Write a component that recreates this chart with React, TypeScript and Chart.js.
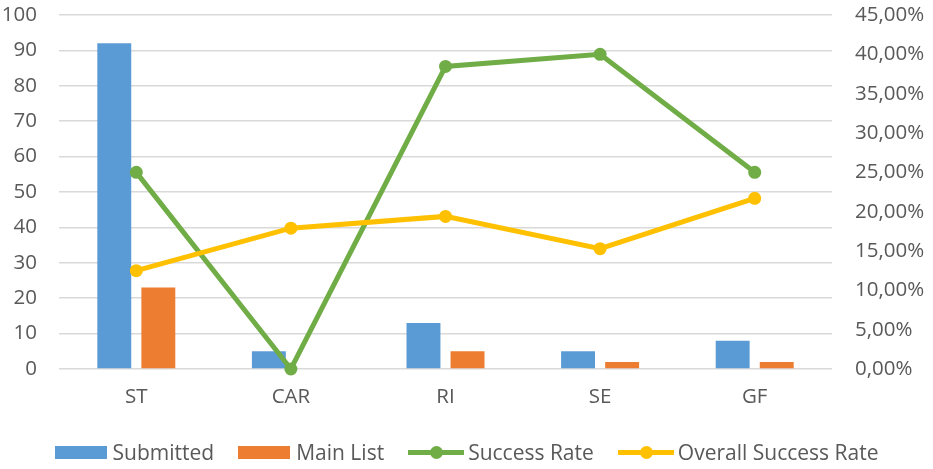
import React, { useEffect, useRef } from "react";
import { Chart, registerables } from "chart.js";

Chart.register(...registerables);

const categories = ["ST", "CAR", "RI", "SE", "GF"];
const submitted = [92, 5, 13, 5, 8];
const mainList = [23, 0, 5, 2, 2];
const successRate = [25, 0, 38.46, 40, 25];
const overallSuccessRate = [12.5, 17.9, 19.4, 15.3, 21.7];
const leftTicks = { min: 0, max: 100, step: 10 };
const rightTicks = { min: 0, max: 45, step: 5 };

const BLUE = "#5B9BD5";
const ORANGE = "#ED7D31";
const GREEN = "#70AD47";
const YELLOW = "#FFC000";
const TEXT = "#595959";
const FONT = "'Open Sans', sans-serif";
const TICK_SIZE = 20.5;

export default function App() {
  const ref = useRef<HTMLCanvasElement | null>(null);

  useEffect(() => {
    if (!ref.current) return;
    const chart = new Chart(ref.current, {
      type: "bar",
      data: {
        labels: categories,
        datasets: [
          {
            type: "bar",
            label: "Submitted",
            data: submitted,
            backgroundColor: BLUE,
            yAxisID: "y",
            order: 2,
            categoryPercentage: 0.57,
            barPercentage: 0.77,
          },
          {
            type: "bar",
            label: "Main List",
            data: mainList,
            backgroundColor: ORANGE,
            yAxisID: "y",
            order: 2,
            categoryPercentage: 0.57,
            barPercentage: 0.77,
          },
          {
            type: "line",
            label: "Success Rate",
            data: successRate,
            borderColor: GREEN,
            backgroundColor: GREEN,
            borderWidth: 5,
            pointRadius: 6.5,
            pointBorderWidth: 0,
            pointBackgroundColor: GREEN,
            yAxisID: "y1",
            order: 1,
            tension: 0,
            clip: false,
          },
          {
            type: "line",
            label: "Overall Success Rate",
            data: overallSuccessRate,
            borderColor: YELLOW,
            backgroundColor: YELLOW,
            borderWidth: 5,
            pointRadius: 6.5,
            pointBorderWidth: 0,
            pointBackgroundColor: YELLOW,
            yAxisID: "y1",
            order: 0,
            tension: 0,
            clip: false,
          },
        ],
      },
      options: {
        animation: false,
        responsive: true,
        maintainAspectRatio: false,
        layout: { padding: { top: 15, left: 0, right: 0, bottom: 0 } },
        plugins: {
          legend: { display: false },
          tooltip: { enabled: false },
        },
        scales: {
          x: {
            grid: { display: false },
            border: { display: false },
            ticks: { color: TEXT, font: { family: FONT, size: TICK_SIZE }, padding: 8 },
            afterFit: (s: any) => {
              s.height = 100;
              s.paddingLeft = 0;
              s.paddingRight = 0;
            },
          },
          y: {
            position: "left",
            min: leftTicks.min,
            max: leftTicks.max,
            ticks: {
              stepSize: leftTicks.step,
              color: TEXT,
              font: { family: FONT, size: TICK_SIZE },
              padding: 22,
            },
            grid: { color: "#d9d9d9", lineWidth: 1.5, drawTicks: false },
            border: { display: false },
            afterFit: (s: any) => {
              s.width = 59;
              s.paddingTop = 0;
              s.paddingBottom = 0;
            },
          },
          y1: {
            position: "right",
            min: rightTicks.min,
            max: rightTicks.max,
            ticks: {
              stepSize: rightTicks.step,
              color: TEXT,
              font: { family: FONT, size: TICK_SIZE },
              padding: 23,
              callback: (v: any) => Number(v).toFixed(2).replace(".", ",") + "%",
            },
            grid: { display: false, drawTicks: false },
            border: { display: false },
            afterFit: (s: any) => {
              s.width = 101;
              s.paddingTop = 0;
              s.paddingBottom = 0;
            },
          },
        },
      },
    });
    return () => chart.destroy();
  }, []);

  const legendItems = [
    { label: "Submitted", color: BLUE, kind: "box" },
    { label: "Main List", color: ORANGE, kind: "box" },
    { label: "Success Rate", color: GREEN, kind: "line" },
    { label: "Overall Success Rate", color: YELLOW, kind: "line" },
  ];

  return (
    <div style={{ position: "fixed", left: 0, top: 0, width: 933, height: 469, background: "#fff" }}>
      <canvas ref={ref} style={{ width: "100%", height: "100%" }} />
      <div
        style={{
          position: "absolute",
          left: 0,
          width: 933,
          top: 437,
          height: 30,
          display: "flex",
          justifyContent: "center",
          alignItems: "center",
          fontFamily: FONT,
          fontSize: 21,
          color: TEXT,
        }}
      >
        {legendItems.map((it, i) => (
          <div key={i} style={{ display: "flex", alignItems: "center", marginRight: i < 3 ? 24 : 0 }}>
            {it.kind === "box" ? (
              <div style={{ width: 52, height: 13, background: it.color, marginRight: 6 }} />
            ) : (
              <div style={{ position: "relative", width: 56, height: 13, marginRight: 4 }}>
                <div style={{ position: "absolute", left: 0, right: 0, top: 4, height: 5, background: it.color }} />
                <div
                  style={{
                    position: "absolute",
                    left: 22,
                    top: 0,
                    width: 13,
                    height: 13,
                    borderRadius: "50%",
                    background: it.color,
                  }}
                />
              </div>
            )}
            <span style={{ whiteSpace: "nowrap" }}>{it.label}</span>
          </div>
        ))}
      </div>
    </div>
  );
}
